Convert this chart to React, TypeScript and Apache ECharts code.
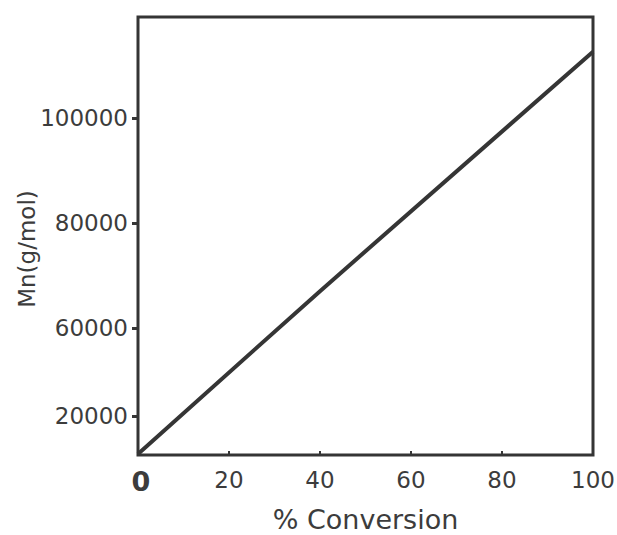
import React, { useEffect, useRef } from "react";
import * as echarts from "echarts";

// Conversion (%) vs Mn (g/mol)
const conversion = [0, 40, 100];
const mnValues = [36000, 67000, 112600];

// x axis
const xMin = 0;
const xMax = 100;
const xTickValues = [0, 20, 40, 60, 80, 100];

// y axis: tick positions and the labels printed at them
const yMin = 35800;
const yMax = 119200;
const yTickValues = [43200, 60000, 80000, 100000];
const yTickLabels = ["20000", "60000", "80000", "100000"];

const xName = "% Conversion";
const yName = "Mn(g/mol)";

export default function App() {
  const ref = useRef<HTMLDivElement>(null);
  useEffect(() => {
    document.body.style.margin = "0";
    if (!ref.current) return;
    const chart = echarts.init(ref.current, undefined, { renderer: "svg" });
    const ink = "#353535";
    const txt = "#3c3c3c";
    chart.setOption({
      animation: false,
      backgroundColor: "#ffffff",
      grid: {
        left: 138,
        right: 24,
        top: 17,
        bottom: 80,
        outerBoundsMode: "none",
        containLabel: false,
        show: true,
        borderColor: ink,
        borderWidth: 3,
        backgroundColor: "transparent",
      },
      xAxis: {
        type: "value",
        min: xMin,
        max: xMax,
        name: xName,
        nameLocation: "middle",
        nameGap: 51,
        nameTextStyle: { fontFamily: "DejaVu Sans", fontSize: 27, color: txt },
        axisLine: { show: false },
        axisTick: {
          show: true,
          inside: true,
          length: 4,
          lineStyle: { color: ink, width: 2 },
          customValues: xTickValues.slice(1, -1),
        },
        splitLine: { show: false },
        axisLabel: {
          customValues: xTickValues,
          margin: 13,
          fontFamily: "DejaVu Sans",
          fontSize: 23,
          color: txt,
          formatter: (v: number) => (v === 0 ? "{z|0}" : String(v)),
          rich: {
            z: { fontFamily: "DejaVu Sans", fontSize: 27, fontWeight: "bold", color: txt, padding: [0, 0, 0, 6] },
          },
        },
      },
      yAxis: {
        type: "value",
        min: yMin,
        max: yMax,
        name: yName,
        nameLocation: "middle",
        nameRotate: 90,
        nameGap: 100,
        nameMoveOverlap: false,
        nameTextStyle: {
          fontFamily: "DejaVu Sans",
          fontSize: 23,
          color: txt,
          padding: [0, 26, 0, 0],
        },
        axisLine: { show: false },
        axisTick: {
          show: true,
          length: 6,
          lineStyle: { color: ink, width: 3 },
          customValues: yTickValues,
        },
        splitLine: { show: false },
        axisLabel: {
          customValues: yTickValues,
          margin: 10,
          fontFamily: "DejaVu Sans",
          fontSize: 23,
          color: txt,
          formatter: (v: number) => {
            const i = yTickValues.indexOf(v);
            return i >= 0 ? yTickLabels[i] : "";
          },
        },
      },
      series: [
        {
          type: "line",
          data: conversion.map((c, i) => [c, mnValues[i]]),
          symbol: "none",
          lineStyle: { color: ink, width: 4 },
        },
      ],
    });
    return () => chart.dispose();
  }, []);
  return <div ref={ref} style={{ width: 617, height: 535 }} />;
}
